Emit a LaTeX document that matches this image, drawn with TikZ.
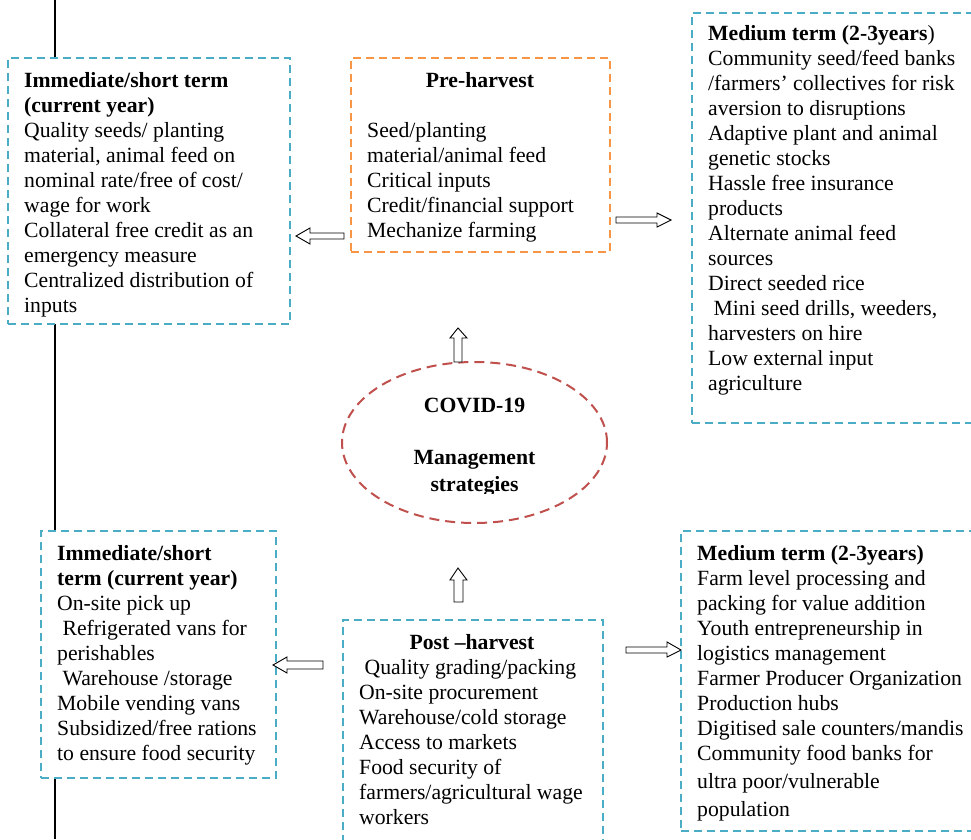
\documentclass[tikz,border=0pt]{standalone}
\usepackage{fontspec}
\setmainfont{Liberation Serif}
\usetikzlibrary{shapes.geometric}
\definecolor{boxblue}{HTML}{4BACC6}
\definecolor{boxorange}{HTML}{F79646}
\definecolor{ellred}{HTML}{C0504D}
\begin{document}
\begin{tikzpicture}[x=1pt,y=-1pt,
  bluebox/.style={draw=boxblue, line width=2pt, dash pattern=on 8pt off 5pt, fill=white, inner sep=0pt, anchor=north west},
  orangebox/.style={draw=boxorange, line width=2pt, dash pattern=on 8pt off 5pt, fill=white, inner sep=0pt, anchor=north west},
  ellbox/.style={draw=ellred, line width=2pt, dash pattern=on 10pt off 6pt, ellipse, inner sep=0pt},
  txt/.style={anchor=north west, inner sep=0pt, align=left, font=\fontsize{21.7}{25}\selectfont},
  ttl/.style={anchor=base, inner sep=0pt, font=\fontsize{21.7}{25}\selectfont\bfseries},
  blockarrow/.style={draw=black, line width=0.9pt, fill=white, line join=miter}]
\useasboundingbox (0,0) rectangle (971,839);
\fill[white] (0,0) rectangle (971,839);
% vertical line
\coordinate (vtop) at (55,0);
\coordinate (vbot) at (55,839);
\draw[line width=1.4pt] (vtop) -- (vbot);
% boxes
\node[bluebox, minimum width=282pt, minimum height=266pt] (tl) at (7,57) {};
\node[orangebox, minimum width=259pt, minimum height=194pt] (pre) at (350,57) {};
\node[bluebox, minimum width=300pt, minimum height=410pt] (tr) at (691,12) {};
\node[ellbox, minimum width=265pt, minimum height=161pt] (cov) at (474.5,442.5) {};
\node[bluebox, minimum width=235pt, minimum height=247pt] (bl) at (40,530) {};
\node[bluebox, minimum width=260pt, minimum height=240pt] (post) at (342,619) {};
\node[bluebox, minimum width=310pt, minimum height=300pt] (br) at (680,530) {};
% arrows
\draw[blockarrow] (296,236) -- (310,228) -- (310,233) -- (344,233) -- (344,239) -- (310,239) -- (310,244) -- cycle;
\draw[blockarrow] (671,220) -- (657,213) -- (657,217) -- (616,217) -- (616,223) -- (657,223) -- (657,227) -- cycle;
\draw[blockarrow] (458,328) -- (467,338) -- (462,338) -- (462,362) -- (454,362) -- (454,338) -- (450,338) -- cycle;
\draw[blockarrow] (458,568) -- (467,580) -- (463,580) -- (463,602) -- (454,602) -- (454,580) -- (450,580) -- cycle;
\draw[blockarrow] (273,665) -- (287,657) -- (287,661) -- (323,661) -- (323,669) -- (287,669) -- (287,673) -- cycle;
\draw[blockarrow] (681,650) -- (667,642) -- (667,647) -- (626,647) -- (626,653) -- (667,653) -- (667,657) -- cycle;
% texts
\node[txt] (tltext) at (24,69.5) {\strut\textbf{Immediate/short term}\\
\textbf{(current year)}\\
Quality seeds/ planting\\
material, animal feed on\\
nominal rate/free of cost/\\
wage for work\\
Collateral free credit as an\\
emergency measure\\
Centralized distribution of\\
inputs};
\node[ttl] (pretitle) at (480,87) {Pre-harvest};
\node[txt] (pretext) at (367,119.5) {\strut Seed/planting\\
material/animal feed\\
Critical inputs\\
Credit/financial support\\
Mechanize farming};
\node[txt] (trtext) at (708,22.5) {\strut\textbf{Medium term (2-3years})\\
Community seed/feed banks\\
/farmers’ collectives for risk\\
aversion to disruptions\\
Adaptive plant and animal\\
genetic stocks\\
Hassle free insurance\\
products\\
Alternate animal feed\\
sources\\
Direct seeded rice\\
\hspace*{5.4pt}Mini seed drills, weeders,\\
harvesters on hire\\
Low external input\\
agriculture};
\node[ttl] (covtitle) at (474.5,412) {COVID-19};
\node[ttl] (covmgmt) at (474.5,464) {Management};
\begin{scope}
\clip (380,470) rectangle (570,493);
\node[ttl] (covstrat) at (474.5,491) {strategies};
\end{scope}
\node[txt] (bltext) at (57,542.5) {\strut\textbf{Immediate/short}\\
\textbf{term (current year)}\\
On-site pick up\\
\hspace*{5.4pt}Refrigerated vans for\\
perishables\\
\hspace*{5.4pt}Warehouse /storage\\
Mobile vending vans\\
Subsidized/free rations\\
to ensure food security};
\node[ttl] (posttitle) at (472,649) {Post –harvest};
\node[txt] (posttext) at (359,656.5) {\strut\hspace*{5.4pt}Quality grading/packing\\
On-site procurement\\
Warehouse/cold storage\\
Access to markets\\
Food security of\\
farmers/agricultural wage\\
workers};
\node[txt] (brtext) at (697,542.5) {\strut\textbf{Medium term (2-3years)}\\
Farm level processing and\\
packing for value addition\\
Youth entrepreneurship in\\
logistics management\\
Farmer Producer Organization\\
Production hubs\\
Digitised sale counters/mandis\\
Community food banks for\\[3pt]
ultra poor/vulnerable\\[3pt]
population};
\end{tikzpicture}
\end{document}
